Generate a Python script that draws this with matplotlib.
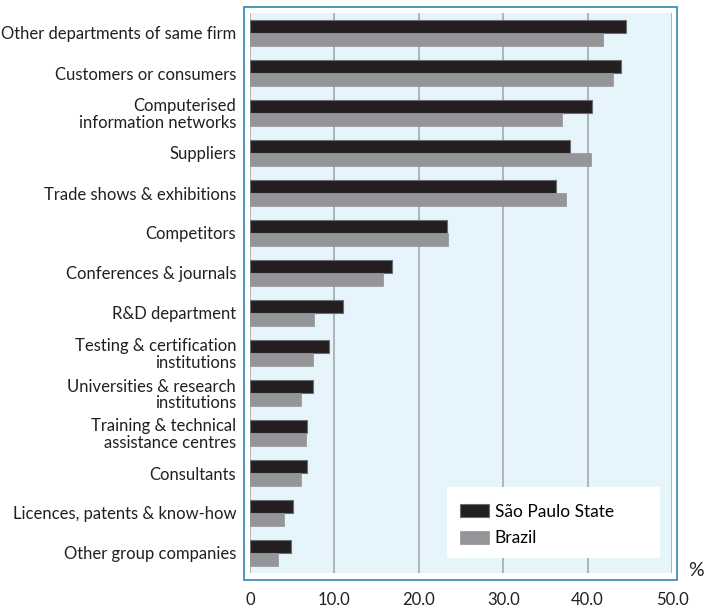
import matplotlib
matplotlib.use('Agg')
import matplotlib.pyplot as plt
import numpy as np
from matplotlib.patches import Rectangle

plt.rcParams['font.family'] = ['Lato', 'DejaVu Sans']

# categories top to bottom
categories = ['Other departments of same firm', 'Customers or consumers',
              'Computerised\ninformation networks', 'Suppliers',
              'Trade shows & exhibitions', 'Competitors', 'Conferences & journals',
              'R&D department', 'Testing & certification\ninstitutions',
              'Universities & research\ninstitutions', 'Training & technical\nassistance centres',
              'Consultants', 'Licences, patents & know-how', 'Other group companies']
sao_paulo = [44.6, 44.0, 40.5, 37.9, 36.2, 23.4, 16.8, 11.0, 9.4, 7.5, 6.7, 6.7, 5.1, 4.8]
brazil = [41.8, 43.0, 37.0, 40.4, 37.4, 23.5, 15.7, 7.6, 7.5, 6.1, 6.6, 6.1, 4.0, 3.3]
xticks = [0, 10, 20, 30, 40, 50]
xticklabels = ['0', '10.0', '20.0', '30.0', '40.0', '50.0']

W, H = 706, 608
fig = plt.figure(figsize=(W / 100, H / 100), dpi=100)

# outer frame
fig.patches.append(Rectangle((244.5 / W, 1 - 579.5 / H), 432 / W, 573 / H,
                             transform=fig.transFigure, fill=False,
                             edgecolor='#3d8fb8', linewidth=1.3))

AW, AH = 422, 560
ax = fig.add_axes([250 / W, 1 - 573 / H, AW / W, AH / H])
ax.set_facecolor('#e6f4fc')

n = len(categories)
y = np.arange(n)[::-1]
h = 0.333
ax.barh(y + h / 2, sao_paulo, height=h, color='#231f20', edgecolor='#6d6e71',
        linewidth=0.8, label='São Paulo State', zorder=3)
ax.barh(y - h / 2, brazil, height=h, color='#939598', edgecolor='#939598',
        linewidth=0.5, label='Brazil', zorder=3)

ax.set_xlim(0, 50)
ax.set_ylim(-0.5, n - 0.5)
for xv in xticks:
    ax.axvline(xv, color='#a7a9ac', linewidth=1.2, zorder=1)

ax.set_yticks(y)
ax.set_yticklabels(categories, fontsize=12, color='#231f20', linespacing=1.0)
ax.set_xticks(xticks)
ax.set_xticklabels(xticklabels, fontsize=12, color='#231f20')
ax.tick_params(axis='both', length=0)
ax.tick_params(axis='y', pad=10)
ax.tick_params(axis='x', pad=14)
for s in ax.spines.values():
    s.set_visible(False)

fig.text(696 / W, 1 - 571 / H, '%', fontsize=14, ha='center', va='center', color='#231f20')

# white legend box
ax.add_patch(Rectangle(((447 - 250) / AW, (573 - 558) / AH), 213 / AW, 71 / AH,
                       transform=ax.transAxes, facecolor='white', edgecolor='none', zorder=4))
leg = ax.legend(loc='upper left', bbox_to_anchor=((460 - 250) / AW, (573 - 504) / AH),
                fontsize=12.5, frameon=False, handlelength=1.65, handleheight=0.77,
                borderpad=0, labelspacing=0.6, handletextpad=0.35, borderaxespad=0)
leg.set_zorder(5)

fig.savefig('out.png', dpi=100)
